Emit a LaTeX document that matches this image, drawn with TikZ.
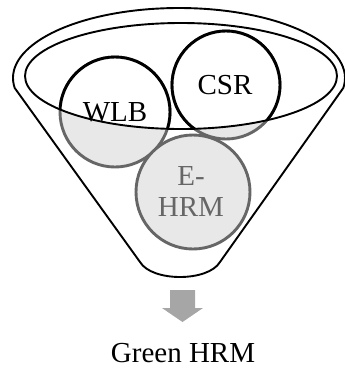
\documentclass[tikz,border=0pt]{standalone}
\usepackage{fontspec}
\setmainfont{Liberation Serif}
\definecolor{subfill}{HTML}{E8E8E8}
\definecolor{substroke}{HTML}{666666}
\definecolor{arrowgray}{HTML}{A6A6A6}
\begin{document}
\begin{tikzpicture}[x=1pt,y=-1pt,
  funnel/.style={line width=1.9pt, draw=black, line join=round},
  subm/.style={line width=2.9pt, draw=substroke, fill=subfill},
  dry/.style={line width=2.9pt, draw=black, fill=white},
  lbl/.style={font=\fontsize{29}{31}\selectfont, inner sep=0pt, align=center}]
\useasboundingbox (0,0) rectangle (345,370);
% funnel outer contour
\draw[funnel] (179,78) ++(171.8:166 and 70)
  arc[start angle=171.8, end angle=368.2, x radius=166, y radius=70]
  -- (220,262) .. controls (208,282) and (152,282) .. (140,262) -- cycle;
% submerged parts of the balls
\draw[subm] (226,85) circle[radius=54];
\draw[subm] (115,112) circle[radius=55];
\draw[subm] (193,192) circle[radius=57];
% parts above the surface
\begin{scope}
  \clip (181,76) ellipse[x radius=156, y radius=53];
  \draw[dry] (226,85) circle[radius=54];
  \draw[dry] (115,112) circle[radius=55];
\end{scope}
% inner rim
\draw[funnel] (181,76) ellipse[x radius=156, y radius=53];
% labels
\node[lbl] (csr) at (225,85) {CSR};
\node[lbl] (wlb) at (115,112) {WLB};
\node[lbl, text=substroke] (ehrm) at (191,192) {E-\\HRM};
% arrow
\fill[arrowgray] (170,290) -- (195,290) -- (195,308) -- (203,308) -- (182.5,322)
  -- (162,308) -- (170,308) -- cycle;
\node[lbl] (green) at (183,353) {Green HRM};
\end{tikzpicture}
\end{document}
